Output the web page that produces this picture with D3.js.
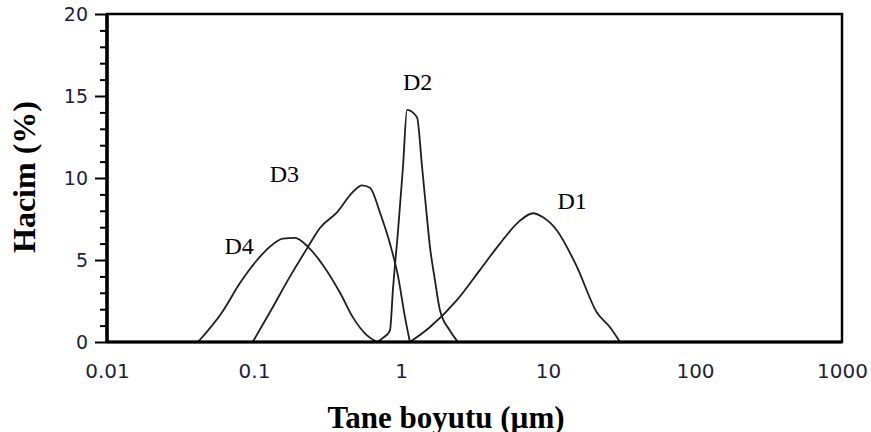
<!DOCTYPE html>
<html>
<head>
<meta charset="utf-8">
<script src="https://cdn.jsdelivr.net/npm/d3@7"></script>
<style>
  body { margin: 0; background: #fff; }
  svg { display: block; }
</style>
</head>
<body>
<div id="chart"></div>
<script>
// Data (particle size in um, volume in %)
const d1Size = [1.15, 1.57, 2.40, 3.45, 4.71, 6.45, 7.91, 9.25, 11.5, 15.7, 21.5, 26.4, 30.9];
const d1Vol  = [0, 0.9, 2.55, 4.4, 6.0, 7.4, 7.85, 7.6, 6.8, 4.6, 1.8, 0.9, 0];

const d2Size = [0.687, 0.755, 0.841, 0.883, 0.955, 1.032, 1.099, 1.285, 1.39, 1.479, 1.574, 1.70, 1.84, 2.15, 2.44];
const d2Vol  = [0, 0.25, 0.7, 3.3, 6.8, 10.7, 14.15, 13.7, 10.7, 8.2, 5.8, 3.8, 1.95, 0.7, 0];

const d3Size = [0.098, 0.128, 0.176, 0.233, 0.281, 0.367, 0.471, 0.543, 0.615, 0.719, 0.841, 0.955, 1.065, 1.15];
const d3Vol  = [0, 1.8, 4.0, 5.8, 6.95, 7.9, 9.15, 9.55, 9.4, 7.9, 6.0, 4.0, 1.5, 0];

const d4Size = [0.0416, 0.0605, 0.0803, 0.105, 0.128, 0.157, 0.19, 0.233, 0.294, 0.385, 0.471, 0.587, 0.687];
const d4Vol  = [0, 1.8, 3.6, 5.0, 5.8, 6.3, 6.35, 5.8, 4.7, 3.0, 1.5, 0.4, 0];

const seriesNames = ["D1", "D2", "D3", "D4"];
// label anchor (size, volume) for each series name
const labelSize = [11.6, 1.03, 0.128, 0.063];
const labelVol  = [8.1, 15.35, 9.75, 5.35];

const xTicks = [0.01, 0.1, 1, 10, 100, 1000];
const xTickLabels = ["0.01", "0.1", "1", "10", "100", "1000"];
const yTicks = [0, 5, 10, 15, 20];

// Chart dimensions
const width = 871;
const height = 432;
const margin = { top: 14, right: 29, bottom: 90, left: 107 };
const innerWidth = width - margin.left - margin.right;
const innerHeight = height - margin.top - margin.bottom;

const tickColor = "#1e1e3c";
const lineColor = "#1e1e1e";

// Scales
const xScale = d3.scaleLog()
  .domain([0.01, 1000])
  .range([0, innerWidth]);

const yScale = d3.scaleLinear()
  .domain([0, 20])
  .range([innerHeight, 0]);

const svg = d3.select("#chart")
  .append("svg")
  .attr("width", width)
  .attr("height", height);

const innerChart = svg.append("g")
  .attr("transform", `translate(${margin.left}, ${margin.top})`);

// Frame (top + right border)
innerChart.append("rect")
  .attr("x", 0)
  .attr("y", 0)
  .attr("width", innerWidth)
  .attr("height", innerHeight)
  .attr("fill", "none")
  .attr("stroke", "#000")
  .attr("stroke-width", 2.5);

// Curves
const series = [
  { name: seriesNames[0], size: d1Size, vol: d1Vol },
  { name: seriesNames[1], size: d2Size, vol: d2Vol },
  { name: seriesNames[2], size: d3Size, vol: d3Vol },
  { name: seriesNames[3], size: d4Size, vol: d4Vol }
];

const line = d3.line()
  .x(d => xScale(d[0]))
  .y(d => yScale(d[1]))
  .curve(d3.curveMonotoneX);

innerChart.selectAll("path.curve")
  .data(series)
  .join("path")
    .attr("class", "curve")
    .attr("d", s => line(d3.zip(s.size, s.vol)))
    .attr("fill", "none")
    .attr("stroke", lineColor)
    .attr("stroke-width", 1.8)
    .attr("stroke-linejoin", "round");

// Series labels
innerChart.selectAll("text.series-label")
  .data(seriesNames)
  .join("text")
    .attr("class", "series-label")
    .attr("x", (d, i) => xScale(labelSize[i]))
    .attr("y", (d, i) => yScale(labelVol[i]))
    .attr("font-family", "'Liberation Serif', 'Times New Roman', serif")
    .attr("font-size", 24)
    .attr("fill", "#000")
    .text(d => d);

// Bottom axis (labels only, no tick marks)
const bottomAxis = d3.axisBottom(xScale)
  .tickValues(xTicks)
  .tickFormat((d, i) => xTickLabels[i])
  .tickSize(0)
  .tickPadding(22);

innerChart.append("g")
  .attr("transform", `translate(0, ${innerHeight})`)
  .call(bottomAxis)
  .call(g => g.select(".domain").remove())
  .call(g => g.selectAll("text")
    .attr("font-family", "'DejaVu Sans', sans-serif")
    .attr("font-size", 20)
    .attr("fill", tickColor));

// Minor y ticks
const leftMinor = d3.axisLeft(yScale)
  .tickValues(d3.range(0, 21).filter(v => v % 5 !== 0))
  .tickSize(7)
  .tickFormat("");

innerChart.append("g")
  .call(leftMinor)
  .call(g => g.select(".domain").remove())
  .call(g => g.selectAll("line").attr("stroke", "#000").attr("stroke-width", 2));

// Major y ticks
const leftAxis = d3.axisLeft(yScale)
  .tickValues(yTicks)
  .tickSize(12)
  .tickPadding(7);

innerChart.append("g")
  .call(leftAxis)
  .call(g => g.select(".domain").remove())
  .call(g => g.selectAll("line").attr("stroke", "#000").attr("stroke-width", 2))
  .call(g => g.selectAll("text")
    .attr("font-family", "'DejaVu Sans', sans-serif")
    .attr("font-size", 19)
    .attr("fill", tickColor));

// Heavy axis lines (left + bottom)
innerChart.append("line")
  .attr("x1", 0).attr("x2", 0)
  .attr("y1", 0).attr("y2", innerHeight)
  .attr("stroke", "#000")
  .attr("stroke-width", 3.5);

innerChart.append("line")
  .attr("x1", 0).attr("x2", innerWidth)
  .attr("y1", innerHeight).attr("y2", innerHeight)
  .attr("stroke", "#000")
  .attr("stroke-width", 3);

// Axis titles
svg.append("text")
  .text("Tane boyutu (µm)")
  .attr("x", 446)
  .attr("y", 428)
  .attr("text-anchor", "middle")
  .attr("font-family", "'Liberation Serif', 'Times New Roman', serif")
  .attr("font-weight", "bold")
  .attr("font-size", 31)
  .attr("fill", "#000");

svg.append("text")
  .text("Hacim (%)")
  .attr("transform", "translate(35, 177) rotate(-90)")
  .attr("text-anchor", "middle")
  .attr("font-family", "'Liberation Serif', 'Times New Roman', serif")
  .attr("font-weight", "bold")
  .attr("font-size", 32)
  .attr("fill", "#000");
</script>
</body>
</html>
